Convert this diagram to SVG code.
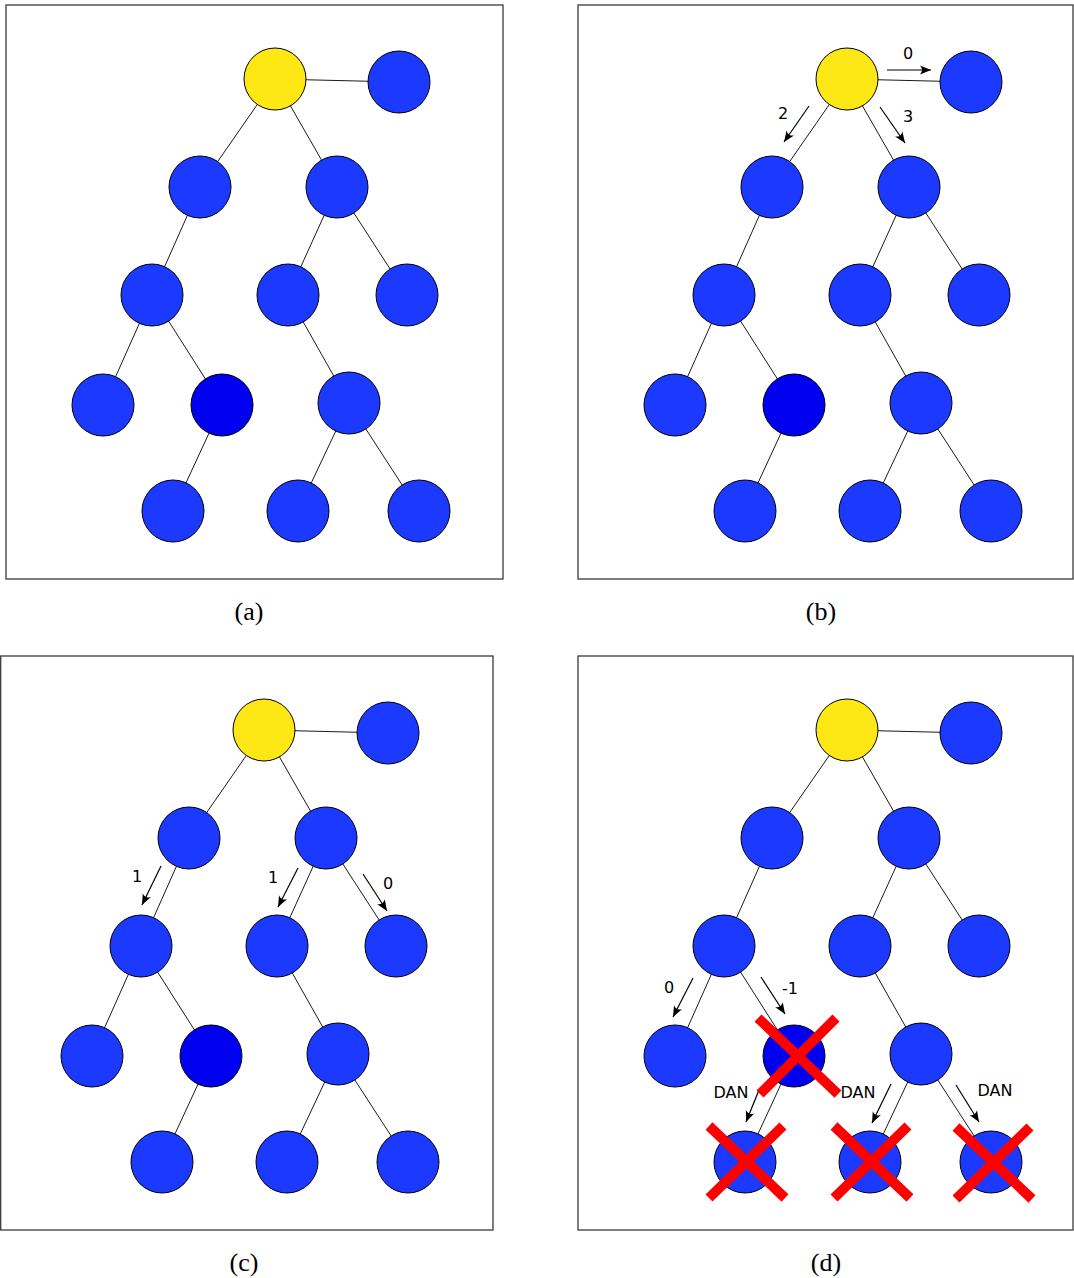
<svg xmlns="http://www.w3.org/2000/svg" width="1074" height="1278" viewBox="0 0 1074 1278">
<style>
.frame{fill:#fff;stroke:#3a3a3a;stroke-width:1.3}
.edge{stroke:#1a1a1a;stroke-width:1;fill:none}
.n{fill:#1c39ff;stroke:#000;stroke-width:1}
.dk{fill:#0000f0;stroke:#000;stroke-width:1}
.y{fill:#fde816;stroke:#000;stroke-width:1}
.arr{stroke:#000;stroke-width:1.2;fill:none;marker-end:url(#ah)}
.lbl{font-family:"DejaVu Sans",sans-serif;font-size:16px;fill:#000;text-anchor:middle}
.cap{font-family:"Liberation Serif","DejaVu Serif",serif;font-size:26px;fill:#000;text-anchor:middle}
.x{stroke:#ff0000;stroke-width:10;fill:none}
</style>
<defs>
<marker id="ah" viewBox="-12 -6 13 12" refX="0" refY="0" markerWidth="13" markerHeight="12" markerUnits="userSpaceOnUse" orient="auto">
<path d="M0,0 L-11,-4.5 Q-7,0 -11,4.5 Z" fill="#000"/>
</marker>
</defs>
<g id="frames">
<rect class="frame" x="6" y="5" width="497" height="574"/>
<rect class="frame" x="578" y="5" width="495" height="574"/>
<rect class="frame" x="0.7" y="656" width="492.3" height="574"/>
<rect class="frame" x="578" y="656" width="495" height="574"/>
</g>
<g id="connectors">
<g id="edges-a">
<path class="edge" d="M275,79L399,82M275,79L200,187M275,79L337,187M200,187L152,295M337,187L288,295M337,187L407,295M152,295L103,405M152,295L222,405M222,405L173,511M288,295L349,403M349,403L298,511M349,403L419,511"/>
</g>
<g id="edges-b" transform="translate(572,0)">
<path class="edge" d="M275,79L399,82M275,79L200,187M275,79L337,187M200,187L152,295M337,187L288,295M337,187L407,295M152,295L103,405M152,295L222,405M222,405L173,511M288,295L349,403M349,403L298,511M349,403L419,511"/>
</g>
<g id="edges-c" transform="translate(-11,651)">
<path class="edge" d="M275,79L399,82M275,79L200,187M275,79L337,187M200,187L152,295M337,187L288,295M337,187L407,295M152,295L103,405M152,295L222,405M222,405L173,511M288,295L349,403M349,403L298,511M349,403L419,511"/>
</g>
<g id="edges-d" transform="translate(572,651)">
<path class="edge" d="M275,79L399,82M275,79L200,187M275,79L337,187M200,187L152,295M337,187L288,295M337,187L407,295M152,295L103,405M152,295L222,405M222,405L173,511M288,295L349,403M349,403L298,511M349,403L419,511"/>
</g>
<g id="arrows">
<line class="arr" x1="887" y1="70" x2="931" y2="70"/>
<line class="arr" x1="809" y1="106" x2="784" y2="142"/>
<line class="arr" x1="880" y1="107" x2="905" y2="143"/>
<line class="arr" x1="161" y1="866" x2="142" y2="905"/>
<line class="arr" x1="298" y1="868" x2="278" y2="907"/>
<line class="arr" x1="363" y1="874" x2="387" y2="911"/>
<line class="arr" x1="693" y1="978" x2="673" y2="1017"/>
<line class="arr" x1="761" y1="977" x2="785" y2="1014"/>
<line class="arr" x1="759" y1="1090" x2="746" y2="1122"/>
<line class="arr" x1="891" y1="1084" x2="872" y2="1123"/>
<line class="arr" x1="956" y1="1085" x2="979" y2="1122"/>
</g>
</g>
<g id="panel-a">
<g id="a-n0"><circle class="y" cx="275" cy="79" r="31"/></g>
<g id="a-n1"><circle class="n" cx="399" cy="82" r="31"/></g>
<g id="a-n2"><circle class="n" cx="200" cy="187" r="31"/></g>
<g id="a-n3"><circle class="n" cx="337" cy="187" r="31"/></g>
<g id="a-n4"><circle class="n" cx="152" cy="295" r="31"/></g>
<g id="a-n5"><circle class="n" cx="288" cy="295" r="31"/></g>
<g id="a-n6"><circle class="n" cx="407" cy="295" r="31"/></g>
<g id="a-n7"><circle class="n" cx="103" cy="405" r="31"/></g>
<g id="a-n8"><circle class="dk" cx="222" cy="405" r="31"/></g>
<g id="a-n9"><circle class="n" cx="349" cy="403" r="31"/></g>
<g id="a-n10"><circle class="n" cx="173" cy="511" r="31"/></g>
<g id="a-n11"><circle class="n" cx="298" cy="511" r="31"/></g>
<g id="a-n12"><circle class="n" cx="419" cy="511" r="31"/></g>
</g>
<g id="panel-b" transform="translate(572,0)">
<g id="b-n0"><circle class="y" cx="275" cy="79" r="31"/></g>
<g id="b-n1"><circle class="n" cx="399" cy="82" r="31"/></g>
<g id="b-n2"><circle class="n" cx="200" cy="187" r="31"/></g>
<g id="b-n3"><circle class="n" cx="337" cy="187" r="31"/></g>
<g id="b-n4"><circle class="n" cx="152" cy="295" r="31"/></g>
<g id="b-n5"><circle class="n" cx="288" cy="295" r="31"/></g>
<g id="b-n6"><circle class="n" cx="407" cy="295" r="31"/></g>
<g id="b-n7"><circle class="n" cx="103" cy="405" r="31"/></g>
<g id="b-n8"><circle class="dk" cx="222" cy="405" r="31"/></g>
<g id="b-n9"><circle class="n" cx="349" cy="403" r="31"/></g>
<g id="b-n10"><circle class="n" cx="173" cy="511" r="31"/></g>
<g id="b-n11"><circle class="n" cx="298" cy="511" r="31"/></g>
<g id="b-n12"><circle class="n" cx="419" cy="511" r="31"/></g>
</g>
<g id="panel-c" transform="translate(-11,651)">
<g id="c-n0"><circle class="y" cx="275" cy="79" r="31"/></g>
<g id="c-n1"><circle class="n" cx="399" cy="82" r="31"/></g>
<g id="c-n2"><circle class="n" cx="200" cy="187" r="31"/></g>
<g id="c-n3"><circle class="n" cx="337" cy="187" r="31"/></g>
<g id="c-n4"><circle class="n" cx="152" cy="295" r="31"/></g>
<g id="c-n5"><circle class="n" cx="288" cy="295" r="31"/></g>
<g id="c-n6"><circle class="n" cx="407" cy="295" r="31"/></g>
<g id="c-n7"><circle class="n" cx="103" cy="405" r="31"/></g>
<g id="c-n8"><circle class="dk" cx="222" cy="405" r="31"/></g>
<g id="c-n9"><circle class="n" cx="349" cy="403" r="31"/></g>
<g id="c-n10"><circle class="n" cx="173" cy="511" r="31"/></g>
<g id="c-n11"><circle class="n" cx="298" cy="511" r="31"/></g>
<g id="c-n12"><circle class="n" cx="419" cy="511" r="31"/></g>
</g>
<g id="panel-d" transform="translate(572,651)">
<g id="d-n0"><circle class="y" cx="275" cy="79" r="31"/></g>
<g id="d-n1"><circle class="n" cx="399" cy="82" r="31"/></g>
<g id="d-n2"><circle class="n" cx="200" cy="187" r="31"/></g>
<g id="d-n3"><circle class="n" cx="337" cy="187" r="31"/></g>
<g id="d-n4"><circle class="n" cx="152" cy="295" r="31"/></g>
<g id="d-n5"><circle class="n" cx="288" cy="295" r="31"/></g>
<g id="d-n6"><circle class="n" cx="407" cy="295" r="31"/></g>
<g id="d-n7"><circle class="n" cx="103" cy="405" r="31"/></g>
<g id="d-n8"><circle class="dk" cx="222" cy="405" r="31"/></g>
<g id="d-n9"><circle class="n" cx="349" cy="403" r="31"/></g>
<g id="d-n10"><circle class="n" cx="173" cy="511" r="31"/></g>
<g id="d-n11"><circle class="n" cx="298" cy="511" r="31"/></g>
<g id="d-n12"><circle class="n" cx="419" cy="511" r="31"/></g>
</g>
<g id="crosses">
<path class="x" d="M758,1018L838,1094M836,1018L760,1094"/>
<path class="x" d="M709,1126L785,1198M783,1126L709,1198"/>
<path class="x" d="M834,1126L910,1198M908,1126L834,1198"/>
<path class="x" d="M956,1127L1032,1199M1030,1127L956,1199"/>
</g>
<g id="labels">
<text class="lbl" x="908" y="59">0</text>
<text class="lbl" x="783" y="119">2</text>
<text class="lbl" x="908" y="122">3</text>
<text class="lbl" x="137" y="882">1</text>
<text class="lbl" x="273" y="883">1</text>
<text class="lbl" x="388" y="889">0</text>
<text class="lbl" x="669" y="993">0</text>
<text class="lbl" x="790" y="994">-1</text>
<text class="lbl" x="731" y="1098">DAN</text>
<text class="lbl" x="858" y="1098">DAN</text>
<text class="lbl" x="995" y="1096">DAN</text>
</g>
<g id="captions">
<text class="cap" x="249" y="620">(a)</text>
<text class="cap" x="821" y="620">(b)</text>
<text class="cap" x="244" y="1271">(c)</text>
<text class="cap" x="826" y="1271">(d)</text>
</g>
</svg>
